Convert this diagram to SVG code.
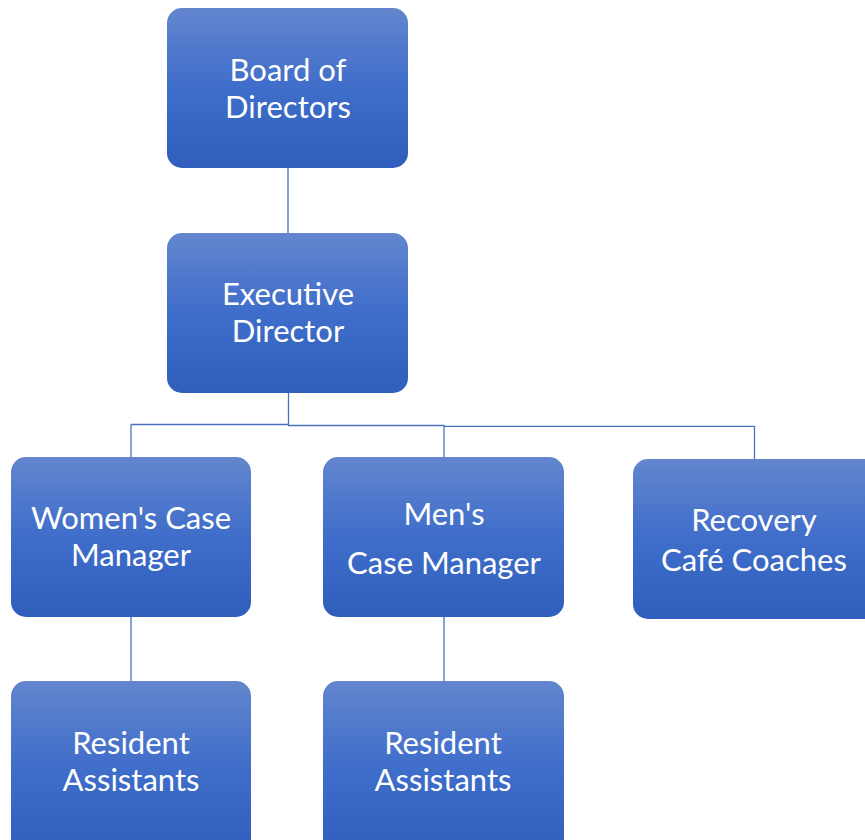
<svg xmlns="http://www.w3.org/2000/svg" width="865" height="840" viewBox="0 0 865 840">
<defs>
<linearGradient id="g" x1="0" y1="0" x2="0" y2="1">
<stop offset="0" stop-color="#6386CE"/>
<stop offset="0.5" stop-color="#3F6DCA"/>
<stop offset="1" stop-color="#2F5EBC"/>
</linearGradient>
<style>
.box{fill:url(#g);}
.t{font-family:Lato,"Open Sans",sans-serif;font-size:31px;fill:#fff;text-anchor:middle;}
.c{fill:none;stroke:#4A72C0;stroke-width:1.3;}
</style>
</defs>
<rect width="865" height="840" fill="#fff"/>
<g id="connectors">
<path class="c" d="M288,168V233"/>
<path class="c" d="M288.5,393V425.5M131,424.5H288.5V425.5H444V426.3H754.5V459M131,424.5V457M444,425.5V457"/>
<path class="c" d="M131,617V681"/>
<path class="c" d="M444,617V681"/>
</g>
<g id="board"><rect class="box" x="167" y="8" width="241" height="160" rx="15"/>
<text class="t" x="288" y="81">Board of</text><text class="t" x="288" y="118">Directors</text></g>
<g id="exec"><rect class="box" x="167" y="233" width="241" height="160" rx="15"/>
<text class="t" x="288" y="305">Executive</text><text class="t" x="288" y="342">Director</text></g>
<g id="womens"><rect class="box" x="11" y="457" width="240" height="160" rx="15"/>
<text class="t" x="131" y="529">Women's Case</text><text class="t" x="131" y="566">Manager</text></g>
<g id="mens"><rect class="box" x="323" y="457" width="241" height="160" rx="15"/>
<text class="t" x="444" y="525">Men's</text><text class="t" x="444" y="574">Case Manager</text></g>
<g id="recovery"><rect class="box" x="633" y="459" width="245" height="160" rx="15"/>
<text class="t" x="754" y="531">Recovery</text><text class="t" x="754" y="571">Café Coaches</text></g>
<g id="resident1"><rect class="box" x="11" y="681" width="240" height="175" rx="15"/>
<text class="t" x="131" y="754">Resident</text><text class="t" x="131" y="791">Assistants</text></g>
<g id="resident2"><rect class="box" x="323" y="681" width="241" height="175" rx="15"/>
<text class="t" x="443" y="754">Resident</text><text class="t" x="443" y="791">Assistants</text></g>
</svg>
